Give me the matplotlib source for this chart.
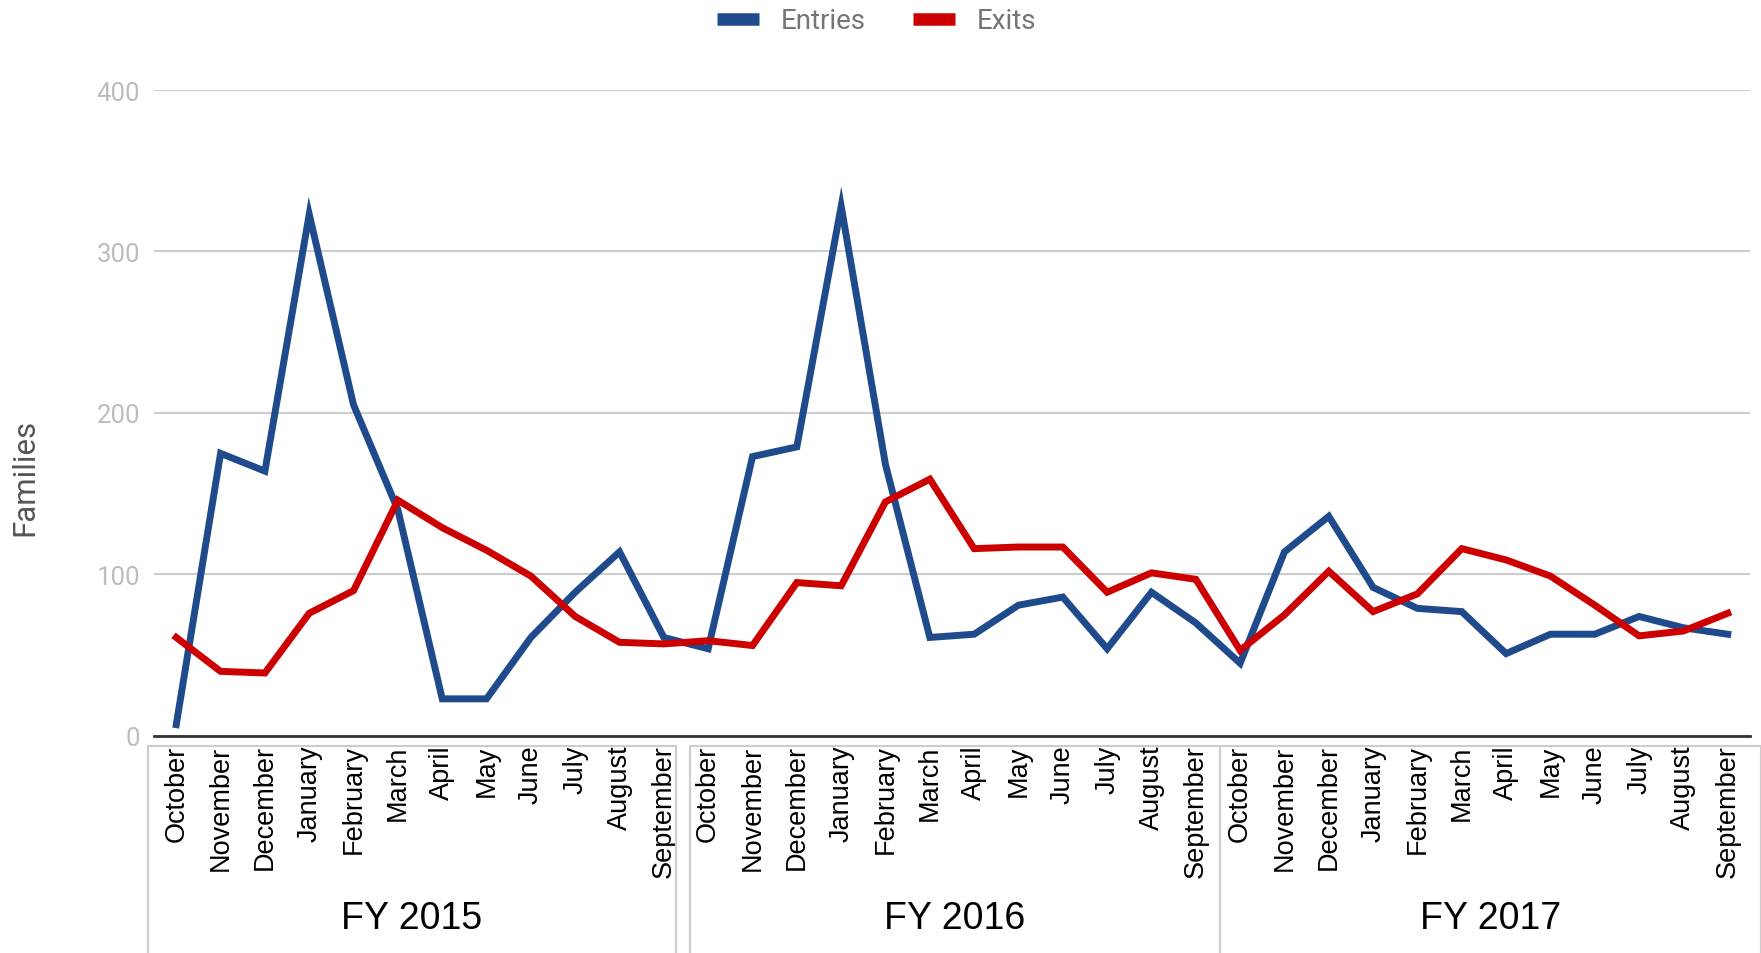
import numpy as np
import matplotlib.pyplot as plt
from matplotlib.lines import Line2D

meses = ['October', 'November', 'December', 'January', 'February', 'March',
         'April', 'May', 'June', 'July', 'August', 'September']
anios = ['FY 2015', 'FY 2016', 'FY 2017']

entradas = [7, 175, 164, 323, 205, 140, 23, 23, 61, 89, 114, 61,
            54, 173, 179, 328, 168, 61, 63, 81, 86, 54, 89, 70,
            45, 114, 136, 92, 79, 77, 51, 63, 63, 74, 67, 63]
salidas = [61, 40, 39, 76, 90, 146, 129, 115, 99, 74, 58, 57,
           59, 56, 95, 93, 145, 159, 116, 117, 117, 89, 101, 97,
           53, 75, 102, 77, 88, 116, 109, 99, 81, 62, 65, 76]

etiquetas = meses * len(anios)
x = np.arange(len(etiquetas)) + 0.5

AZUL = '#1f4a8c'
ROJO = '#cc0000'

fig = plt.figure(figsize=(17.61, 9.54), dpi=100)
ax = fig.add_axes([0.0875, 0.2275, 0.9062, 0.6771])

ax.plot(x, entradas, color=AZUL, lw=5, solid_joinstyle='miter', zorder=3)
ax.plot(x, salidas, color=ROJO, lw=5, solid_joinstyle='miter', zorder=3)

ax.set_xlim(0, len(etiquetas))
ax.set_ylim(0, 400)
ax.set_yticks([0, 100, 200, 300, 400])
ax.yaxis.grid(True, color='#cccccc', lw=1.5)
ax.set_axisbelow(True)
for s in ['top', 'right', 'left']:
    ax.spines[s].set_visible(False)
ax.spines['bottom'].set_color('#333333')
ax.spines['bottom'].set_linewidth(2)
ax.spines['bottom'].set_zorder(4)

ax.tick_params(axis='y', length=0, pad=10, labelsize=18.5, labelcolor='#bdbdbd')
for t in ax.get_yticklabels():
    t.set_family('Roboto')

ax.set_xticks(x)
ax.set_xticklabels(etiquetas, rotation=90, fontsize=19.5, family='Liberation Sans',
                   color='black', va='top', ha='center')
ax.tick_params(axis='x', length=0, pad=6)

# etiqueta del eje Y centrada en la figura
fig.text(0.014, 0.5, 'Families', rotation=90, ha='center', va='center',
         family='Roboto', fontsize=22.5, color='#555555')

# cajas de los años fiscales (debajo del eje)
trans = ax.get_xaxis_transform()
cajas = [(-0.14, 11.78), (12.09, 24.04), (24.04, 36.24)]
for (a, b), nombre in zip(cajas, anios):
    ax.plot([a, a, b, b], [-0.34, -0.0155, -0.0155, -0.34], transform=trans,
            color='#cccccc', lw=1.5, clip_on=False)
    ax.text((a + b) / 2, -0.282, nombre, transform=trans,
            ha='center', va='center', fontsize=27, family='Liberation Sans', color='black')

handles = [Line2D([], [], color=AZUL, lw=9, solid_capstyle='butt'),
           Line2D([], [], color=ROJO, lw=9, solid_capstyle='butt')]
leg = fig.legend(handles, ['Entries', 'Exits'], loc='center', bbox_to_anchor=(0.498, 0.977),
                 ncol=2, frameon=False, handlelength=1.5, handletextpad=0.8,
                 columnspacing=1.7, prop={'family': 'Roboto', 'size': 20})
for t in leg.get_texts():
    t.set_color('#757575')

fig.savefig('out.png', dpi=100)
